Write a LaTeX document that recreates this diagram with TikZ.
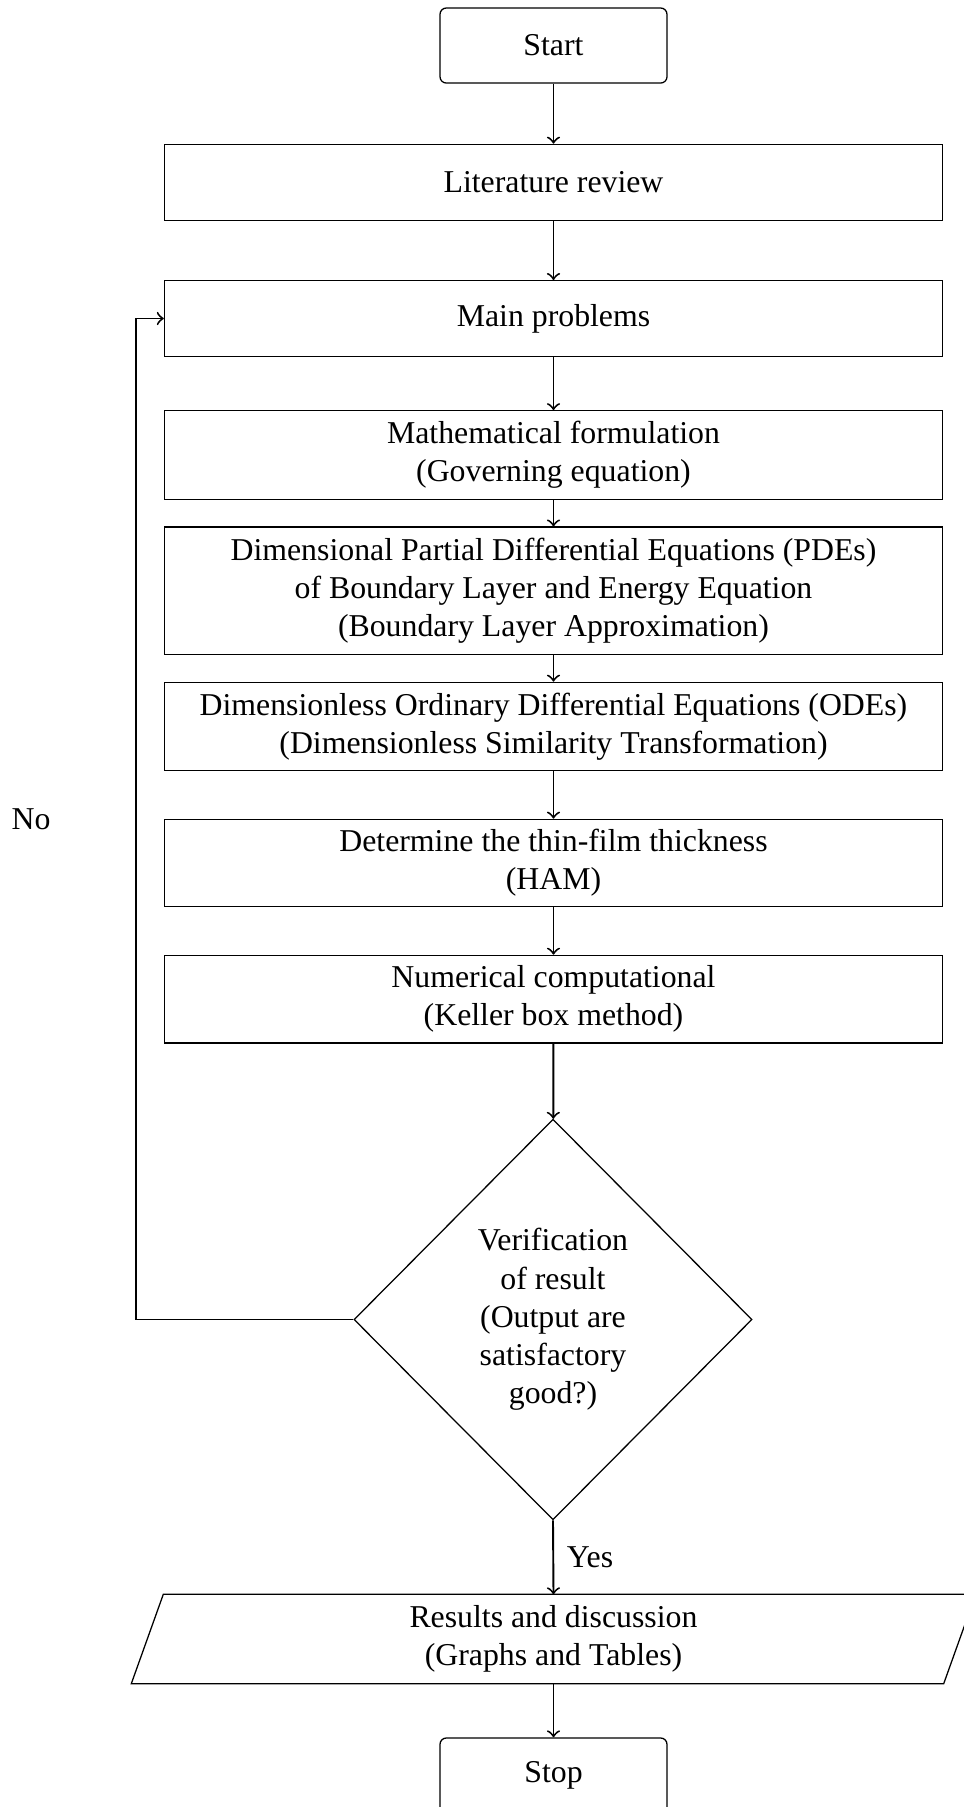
\documentclass[tikz,border=0pt]{standalone}
\usepackage{fontspec}
\setmainfont{Liberation Serif}
\usetikzlibrary{shapes.geometric}
\begin{document}
\begin{tikzpicture}[x=0.3145pt,y=-0.3145pt,
  proc/.style={draw, rectangle, minimum width=244.7pt, inner sep=0pt, align=center, line width=0.4pt},
  term/.style={draw, rectangle, rounded corners=2pt, minimum width=71.4pt, minimum height=23.6pt, inner sep=0pt, line width=0.4pt},
  decision/.style={draw, diamond, aspect=1, minimum width=125.2pt, minimum height=126pt, inner sep=0pt, align=center, line width=0.4pt},
  arr/.style={->, semithick},
  lbl/.style={inner sep=0pt}]
\useasboundingbox (0,0) rectangle (964,1807);
\clip (0,0) rectangle (964,1807);
\node[term] (start) at (553.5,45.5) {Start};
\node[proc, minimum height=23.9pt] (lit) at (553.5,182.3) {Literature review};
\node[proc, minimum height=23.8pt] (main) at (553.5,318.5) {Main problems};
\node[proc, minimum height=27.8pt] (math) at (553.5,455) {Mathematical formulation\\(Governing equation)};
\node[proc, minimum height=40pt] (pde) at (553.5,590.7) {Dimensional Partial Differential Equations (PDEs)\\of Boundary Layer and Energy Equation\\(Boundary Layer Approximation)};
\node[proc, minimum height=27.8pt] (ode) at (553.5,726.5) {Dimensionless Ordinary Differential Equations (ODEs)\\(Dimensionless Similarity Transformation)};
\node[proc, minimum height=27.5pt] (ham) at (553.5,863) {Determine the thin-film thickness\\(HAM)};
\node[proc, minimum height=27.6pt] (num) at (553.5,999.2) {Numerical computational\\(Keller box method)};
\node[decision] (dec) at (553,1319.5) {Verification\\of result\\(Output are\\satisfactory\\good?)};
\node[minimum width=255.1pt, minimum height=27.7pt, inner sep=0pt, align=center] (res) at (553.5,1639) {Results and discussion\\(Graphs and Tables)};
\draw[line width=0.4pt] ([xshift=-5.03pt]res.south west) -- ([xshift=5.03pt]res.north west) -- ([xshift=5.03pt]res.north east) -- ([xshift=-5.03pt]res.south east) -- cycle;
\node[term] (stop) at (553.5,1775.5) {Stop};
\node[lbl] (no) at (31,819) {No};

\draw[arr] (start) -- (lit);
\draw[arr] (lit) -- (main);
\draw[arr] (main) -- (math);
\draw[arr] (math) -- (pde);
\draw[arr] (pde) -- (ode);
\draw[arr] (ode) -- (ham);
\draw[arr] (ham) -- (num);
\draw[arr] (num) -- (dec);
\draw[arr] (dec.south) -- node[right, inner sep=4pt] (yes) {Yes} (res.north);
\draw[arr] (res.south) -- (stop);
\draw[arr] (dec.west) -- ++(-217.3,0) |- (main.west);
\end{tikzpicture}
\end{document}
